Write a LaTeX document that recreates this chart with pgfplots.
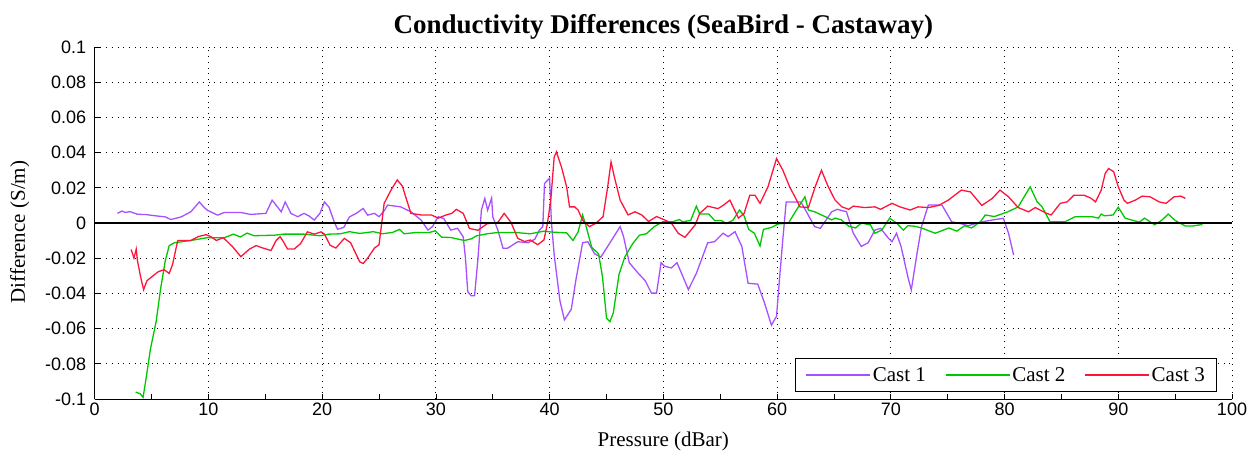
\documentclass[border=0pt]{standalone}
\usepackage{fontspec}
\setmainfont{Liberation Serif}
\setsansfont{Liberation Sans}
\usepackage{pgfplots}
\pgfplotsset{compat=1.18}
\definecolor{cone}{RGB}{166,80,255}
\definecolor{ctwo}{RGB}{0,200,0}
\definecolor{cthree}{RGB}{255,20,60}
\begin{document}
\begin{tikzpicture}
\begin{axis}[
  name=ax,
  width=1137pt, height=352pt, scale only axis,
  xmin=0, xmax=100, ymin=-0.1, ymax=0.1,
  axis lines*=left,
  axis line style={black, line width=1pt},
  tick align=inside,
  major tick length=5pt, minor tick length=5pt,
  tick style={black, line width=0.8pt},
  xtick={0,10,...,100},
  minor x tick num=1,
  ytick={-0.1,-0.08,-0.06,-0.04,-0.02,0,0.02,0.04,0.06,0.08,0.1},
  yticklabels={-0.1,-0.08,-0.06,-0.04,-0.02,0,0.02,0.04,0.06,0.08,0.1},
  scaled y ticks=false,
  /pgf/number format/assume math mode=true,
  ticklabel style={font=\sffamily\fontsize{18}{18}\selectfont},
  yticklabel style={xshift=-5pt},
  grid=major,
  major grid style={black, line width=0.9pt, dash pattern=on 0.9pt off 4.8pt},
  title={Conductivity Differences (SeaBird - Castaway)},
  title style={font=\bfseries\fontsize{27}{29}\selectfont, yshift=-2pt},
  xlabel={Pressure (dBar)},
  ylabel={Difference (S/m)},
  label style={font=\fontsize{21}{22}\selectfont},
  xlabel style={yshift=-10pt},
  ylabel style={yshift=9pt, xshift=-9pt},
  legend columns=3,
  legend style={at={(0.987,0.02)}, anchor=south east, draw=black, line width=0.8pt,
    font=\fontsize{21}{22}\selectfont, inner xsep=10pt, inner ysep=7pt,
    /tikz/every even column/.append style={column sep=17pt},
    /tikz/every odd column/.append style={column sep=0pt}},
  legend image code/.code={\draw[#1, line width=1.3pt] (0pt,0pt) -- (64pt,0pt);},
  every axis plot/.append style={line width=1.3pt},
]
\addplot[cone] coordinates {(2.0,0.0055)(2.4,0.0068)(2.7,0.006)(3.1,0.0065)(3.76,0.005)(4.5,0.0048)(5.5,0.004)(6.2,0.0035)(6.7,0.002)(7.6,0.0035)(8.45,0.0064)(9.2,0.012)(9.6,0.009)(9.9,0.0073)(10.8,0.0045)(11.4,0.006)(12.85,0.006)(13.7,0.0049)(15.05,0.0055)(15.6,0.013)(16.4,0.0064)(16.75,0.012)(17.25,0.0055)(17.85,0.0036)(18.4,0.0055)(18.85,0.004)(19.3,0.0017)(19.8,0.0055)(20.2,0.012)(20.6,0.009)(21.1,0)(21.35,-0.0035)(21.9,-0.0025)(22.4,0.0035)(23,0.0055)(23.6,0.0083)(24,0.0045)(24.6,0.0055)(25,0.0036)(25.5,0.0074)(25.75,0.0102)(26.9,0.0092)(27.8,0.0064)(28.7,0.0017)(29.3,-0.004)(29.7,-0.002)(30.2,0.0036)(30.7,0.0025)(31.3,-0.004)(31.9,-0.003)(32.4,-0.0078)(32.6,-0.02)(32.8,-0.039)(33.1,-0.0413)(33.4,-0.0413)(33.7,-0.02)(34.0,0.0073)(34.3,0.014)(34.55,0.0073)(34.9,0.0142)(35.0,0.0036)(35.45,-0.004)(35.9,-0.0143)(36.3,-0.0143)(37.2,-0.0106)(38.1,-0.0112)(38.7,-0.0092)(39.1,-0.004)(39.4,-0.002)(39.55,0.0225)(39.85,0.0245)(40.0,0.0255)(40.15,0.001)(40.4,-0.018)(40.9,-0.044)(41.3,-0.055)(41.9,-0.049)(42.3,-0.0327)(42.9,-0.0112)(43.35,-0.0106)(43.95,-0.0174)(44.5,-0.0194)(45.1,-0.0133)(46.2,-0.002)(46.5,-0.0077)(47,-0.0225)(47.8,-0.0286)(48.4,-0.0327)(48.95,-0.0398)(49.4,-0.0398)(49.8,-0.0225)(50.1,-0.0245)(50.7,-0.0255)(51.2,-0.0225)(51.6,-0.0286)(52.2,-0.0378)(52.9,-0.0286)(53.9,-0.0112)(54.5,-0.0106)(55.25,-0.0058)(55.7,-0.0077)(56.3,-0.0049)(56.9,-0.0133)(57.45,-0.0342)(58.3,-0.0347)(58.9,-0.0455)(59.5,-0.058)(59.95,-0.053)(60.2,-0.0327)(60.5,-0.0096)(60.8,0.012)(62.1,0.012)(63.3,-0.002)(63.8,-0.003)(64.8,0.0064)(65.3,0.0078)(66.1,0.0064)(66.7,-0.0058)(67.4,-0.0133)(68,-0.0112)(68.6,-0.004)(69.1,-0.003)(69.8,-0.0087)(70.1,-0.0106)(70.5,-0.0058)(70.9,-0.0133)(71.5,-0.0306)(71.8,-0.038)(72.3,-0.0174)(72.7,-0.002)(73.3,0.0102)(74.5,0.0102)(75.35,0.0007)(76.2,-0.0004)(76.8,-0.0015)(78,0.0007)(79.2,0.002)(79.9,0.0027)(80.35,-0.0058)(80.8,-0.0182)};
\addlegendentry{Cast 1}
\addplot[ctwo] coordinates {(3.6,-0.096)(4.0,-0.097)(4.25,-0.099)(4.5,-0.089)(4.9,-0.0715)(5.4,-0.056)(5.8,-0.037)(6.2,-0.0215)(6.55,-0.0128)(7.0,-0.0112)(8.45,-0.0099)(9.9,-0.0083)(11.4,-0.0083)(12.2,-0.0063)(12.8,-0.0079)(13.4,-0.0057)(14,-0.0072)(15.8,-0.0069)(16.6,-0.0063)(18.4,-0.0063)(19.8,-0.0072)(20.6,-0.0063)(21.6,-0.0061)(22.4,-0.0049)(23.3,-0.0059)(24.5,-0.0049)(25.3,-0.0061)(26.2,-0.0053)(26.8,-0.0036)(27.2,-0.0061)(28.2,-0.0054)(29.4,-0.0054)(29.95,-0.0044)(30.5,-0.008)(31.3,-0.0082)(32.5,-0.0099)(33.1,-0.009)(33.6,-0.0072)(34.5,-0.0061)(35.4,-0.0054)(37.1,-0.0054)(38.3,-0.0061)(39.5,-0.0046)(40.15,-0.0051)(41.5,-0.0056)(42.05,-0.0099)(42.5,-0.0051)(42.9,0.0046)(43.2,-0.0017)(43.7,-0.0138)(44.3,-0.0174)(44.65,-0.0306)(45.0,-0.054)(45.3,-0.056)(45.6,-0.051)(46.1,-0.0292)(46.6,-0.0194)(47.3,-0.0117)(47.9,-0.0069)(48.5,-0.0061)(49.2,-0.002)(49.95,0.0007)(50.8,0.0007)(51.4,0.002)(51.7,0.0007)(52.4,0.0015)(52.9,0.0096)(53.2,0.0051)(54.0,0.0051)(54.5,0.0015)(55.1,0.0015)(55.5,-0.0003)(56.1,0.0015)(56.7,0.0074)(57.1,0.0041)(57.5,-0.0036)(58.0,-0.0058)(58.5,-0.013)(58.8,-0.0036)(59.5,-0.0025)(60.1,-0.0005)(61,0)(61.7,0.0074)(62.45,0.0149)(62.75,0.0074)(63.3,0.0064)(64.2,0.0037)(64.8,0.0018)(65.1,0.0028)(65.65,0.0018)(66.3,-0.0018)(66.9,-0.0028)(67.4,0)(68.2,-0.001)(68.6,-0.0058)(69.2,-0.004)(69.9,0.0028)(70.5,0)(71.1,-0.004)(71.5,-0.0015)(72.1,-0.0018)(72.7,-0.0028)(73.9,-0.0058)(75.1,-0.0028)(75.8,-0.0046)(76.5,-0.0015)(77.1,-0.0028)(77.9,0.0009)(78.3,0.0046)(79.1,0.0037)(80.3,0.0064)(81.2,0.0092)(82.25,0.0206)(82.85,0.0122)(83.3,0.0092)(84.0,0.0007)(85.3,0.0007)(86.2,0.0036)(87.7,0.0036)(88.25,0.0028)(88.5,0.0051)(88.8,0.0041)(89.55,0.0046)(90,0.009)(90.6,0.0028)(91.5,0.0011)(91.9,0.0007)(92.3,0.0028)(92.8,0.0007)(93.2,-0.001)(93.8,0.0015)(94.4,0.0051)(95,0.0015)(95.9,-0.0017)(96.5,-0.0017)(97.4,-0.0008)};
\addlegendentry{Cast 2}
\addplot[cthree] coordinates {(3.2,-0.015)(3.45,-0.0199)(3.65,-0.0148)(3.76,-0.0215)(4.05,-0.031)(4.3,-0.0378)(4.6,-0.0327)(5.1,-0.0301)(5.6,-0.0276)(6.1,-0.0265)(6.55,-0.0286)(6.85,-0.0234)(7.3,-0.0099)(8.45,-0.0099)(9.1,-0.0077)(9.8,-0.0066)(10.2,-0.0077)(10.7,-0.0099)(11.3,-0.0083)(12.1,-0.0133)(12.85,-0.0191)(13.6,-0.0148)(14.2,-0.0128)(14.6,-0.0138)(15.5,-0.0156)(15.95,-0.0099)(16.3,-0.0077)(16.6,-0.0107)(16.95,-0.0147)(17.55,-0.0147)(18.1,-0.0117)(18.7,-0.005)(19.3,-0.0063)(19.9,-0.005)(20.2,-0.0063)(20.7,-0.0126)(21.2,-0.0142)(21.95,-0.0087)(22.5,-0.0112)(23.3,-0.022)(23.6,-0.023)(24.0,-0.0199)(24.6,-0.0142)(25,-0.0123)(25.45,0.0112)(26.05,0.0187)(26.6,0.0245)(27.05,0.021)(27.8,0.0055)(28.7,0.0046)(29.6,0.0046)(30.2,0.0028)(30.9,0.0046)(31.4,0.0055)(31.8,0.0078)(32.4,0.0055)(32.95,-0.0031)(33.7,-0.0041)(34.5,-0.0004)(35.45,0.0004)(36,0.0055)(36.6,0.0004)(37.2,-0.0087)(37.8,-0.0105)(38.3,-0.0096)(38.95,-0.0123)(39.5,-0.0096)(39.8,-0.0004)(40.1,0.013)(40.4,0.0375)(40.6,0.0404)(41.05,0.0316)(41.5,0.0204)(41.75,0.0092)(42.2,0.0092)(42.5,0.0074)(42.9,0.0017)(43.5,-0.002)(44.1,0)(44.7,0.0037)(45.1,0.0204)(45.4,0.0347)(45.7,0.026)(46.2,0.013)(46.9,0.0046)(47.5,0.0064)(48.1,0.0046)(48.7,0.0009)(49.4,0.0037)(50.1,0.0018)(50.7,0)(51.3,-0.0058)(51.9,-0.0081)(52.8,-0.001)(53.2,0.0055)(53.9,0.0096)(54.8,0.0082)(55.25,0.01)(55.85,0.013)(56.6,0.0028)(57.1,0.0055)(57.6,0.0158)(58.05,0.0158)(58.5,0.0112)(59.2,0.0206)(59.95,0.0366)(60.5,0.0301)(61.1,0.0206)(61.8,0.0120)(62.0,0.0092)(62.75,0.0088)(63.35,0.0206)(63.9,0.03)(64.5,0.0206)(65.1,0.013)(65.7,0.0092)(66.3,0.0078)(66.7,0.0096)(67.7,0.0088)(68.6,0.0092)(69.1,0.0078)(70.1,0.0112)(70.8,0.0092)(71.7,0.0074)(72.4,0.0092)(73.3,0.0088)(74.2,0.01)(75.05,0.013)(76.2,0.0187)(77,0.0177)(78,0.01)(78.9,0.0139)(79.6,0.0187)(80.35,0.0149)(81.2,0.0088)(82.1,0.0064)(82.7,0.0088)(83.7,0.0055)(84.1,0.0046)(84.9,0.0112)(85.5,0.012)(86.1,0.0158)(87,0.0158)(87.6,0.0141)(88,0.012)(88.5,0.0187)(88.85,0.0282)(89.15,0.031)(89.6,0.0291)(90,0.0206)(90.5,0.013)(90.8,0.0112)(91.5,0.013)(92.1,0.0153)(92.8,0.0149)(93.6,0.012)(94.2,0.0112)(94.9,0.0149)(95.5,0.0153)(95.9,0.014)};
\addlegendentry{Cast 3}
\addplot[black, line width=1.8pt, forget plot] coordinates {(0,0)(100,0)};
\end{axis}
\path (ax.south west) ++(-94.7pt,-58pt) coordinate (bl);
\path (ax.north east) ++(26pt,47pt) coordinate (tr);
\pgfresetboundingbox
\useasboundingbox (bl) rectangle (tr);
\end{tikzpicture}
\end{document}
